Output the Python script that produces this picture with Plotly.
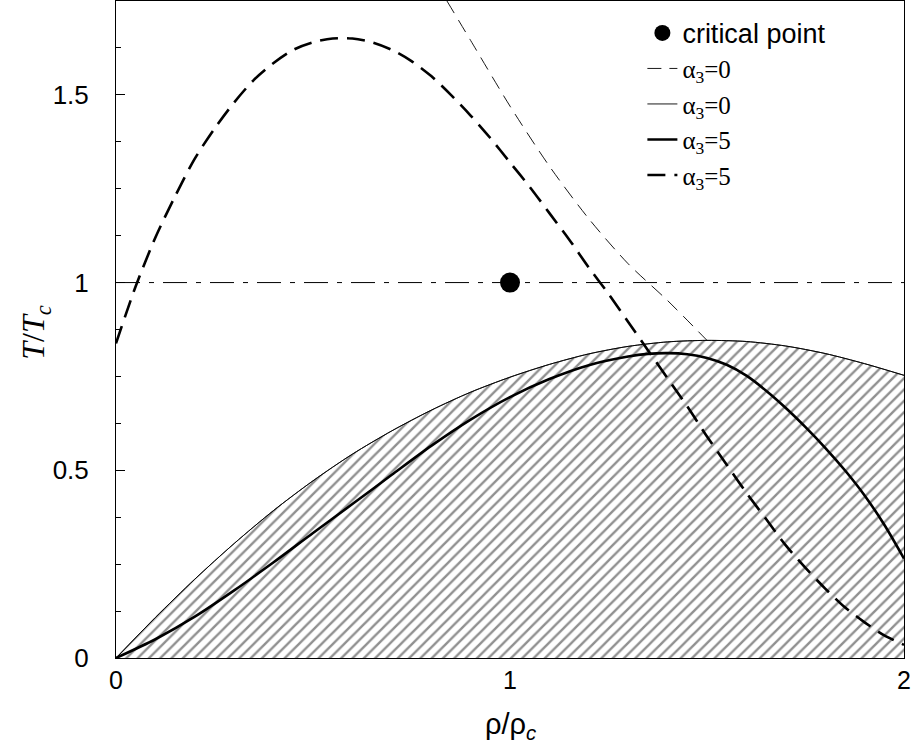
import plotly.graph_objects as go

# ---- data ----
crit_x = [1.0]
crit_y = [1.0]

ref_x = [0.0, 2.0]
ref_y = [1.0, 1.0]

# shaded region boundary (alpha3 = 0, thin solid)
bnd_x = [0.0, 0.1, 0.2, 0.3, 0.4, 0.5, 0.6, 0.7, 0.8, 0.9, 1.0, 1.1, 1.2, 1.3, 1.4, 1.5, 1.6, 1.7, 1.8, 1.9, 2.0]
bnd_y = [0.0, 0.108, 0.21, 0.305, 0.393, 0.472, 0.543, 0.605, 0.66, 0.708, 0.748, 0.782, 0.81, 0.83, 0.842, 0.846, 0.843, 0.831, 0.811, 0.784, 0.753]

# alpha3 = 0, thin dashed
a0d_x = [0.84, 0.9, 1.0, 1.1, 1.2, 1.3, 1.4, 1.5]
a0d_y = [1.75, 1.645, 1.47, 1.31, 1.17, 1.05, 0.952, 0.846]

# alpha3 = 5, thick solid
a5s_x = [0.0, 0.1, 0.2, 0.3, 0.4, 0.5, 0.6, 0.7, 0.8, 0.9, 1.0, 1.1, 1.2, 1.3, 1.35, 1.4, 1.45, 1.5, 1.55, 1.6,
         1.65, 1.7, 1.75, 1.8, 1.85, 1.9, 1.95, 2.0]
a5s_y = [0.0, 0.05, 0.11, 0.18, 0.255, 0.333, 0.41, 0.488, 0.565, 0.635, 0.695, 0.743, 0.78, 0.803, 0.81, 0.812, 0.809, 0.799, 0.781, 0.752,
         0.712, 0.666, 0.615, 0.56, 0.5, 0.433, 0.355, 0.265]

# alpha3 = 5, thick dashed
a5d_x = [0.0, 0.05, 0.1, 0.15, 0.2, 0.25, 0.3, 0.35, 0.4, 0.45, 0.5, 0.55, 0.6, 0.65, 0.7, 0.75, 0.8, 0.85, 0.9, 0.95, 1.0,
         1.05, 1.1, 1.15, 1.2, 1.25, 1.3, 1.35, 1.4, 1.45, 1.5, 1.55, 1.6, 1.65, 1.7, 1.75, 1.8, 1.85, 1.9, 1.95, 2.0]
a5d_y = [0.838, 0.99, 1.12, 1.23, 1.33, 1.41, 1.48, 1.54, 1.585, 1.62, 1.64, 1.65, 1.65, 1.64, 1.62, 1.59, 1.55, 1.50, 1.445, 1.385, 1.32,
         1.255, 1.185, 1.115, 1.04, 0.97, 0.895, 0.82, 0.745, 0.67, 0.59, 0.515, 0.44, 0.37, 0.30, 0.24, 0.185, 0.135, 0.095, 0.06, 0.035]

SANS = "Liberation Sans, Arial, sans-serif"
SERIF = "Liberation Serif, Times New Roman, serif"

fig = go.Figure()

# hatched region
fig.add_trace(go.Scatter(
    x=bnd_x, y=bnd_y, mode="lines", fill="tozeroy",
    line=dict(color="black", width=0.8, shape="spline", smoothing=0.8),
    fillcolor="rgba(255,255,255,0)",
    fillpattern=dict(shape="/", fgcolor="#222222", bgcolor="white", size=8, solidity=0.3),
    showlegend=False, hoverinfo="skip"))

# y = 1 dash-dot reference
fig.add_trace(go.Scatter(
    x=ref_x, y=ref_y, mode="lines",
    line=dict(color="black", width=1, dash="24px,9px,5px,9px"),
    showlegend=False, hoverinfo="skip"))

fig.add_trace(go.Scatter(
    x=crit_x, y=crit_y, mode="markers",
    marker=dict(color="black", size=20),
    name='<span style="font-family:Liberation Sans, Arial, sans-serif;font-size:27px">critical point</span>'))

fig.add_trace(go.Scatter(
    x=a0d_x, y=a0d_y, mode="lines",
    line=dict(color="black", width=0.9, dash="14px,8px", shape="spline", smoothing=0.8),
    name="α<sub>3</sub>=0"))

fig.add_trace(go.Scatter(
    x=bnd_x, y=bnd_y, mode="lines",
    line=dict(color="black", width=0.9, shape="spline", smoothing=0.8),
    name="α<sub>3</sub>=0"))

fig.add_trace(go.Scatter(
    x=a5s_x, y=a5s_y, mode="lines",
    line=dict(color="black", width=2.6, shape="spline", smoothing=0.8),
    name="α<sub>3</sub>=5"))

fig.add_trace(go.Scatter(
    x=a5d_x, y=a5d_y, mode="lines",
    line=dict(color="black", width=2.6, dash="18px,9px", shape="spline", smoothing=0.8),
    name="α<sub>3</sub>=5"))

fig.update_layout(
    width=912, height=746,
    margin=dict(l=116, r=8, t=1, b=88),
    paper_bgcolor="white", plot_bgcolor="white",
    font=dict(family=SANS, color="black", size=26),
    showlegend=True,
    legend=dict(
        x=0.668, y=0.986, xanchor="left", yanchor="top",
        bgcolor="rgba(255,255,255,0)", borderwidth=0,
        font=dict(family=SERIF, size=25, color="black"),
        tracegroupgap=0, itemwidth=30),
    xaxis=dict(
        range=[0, 2], tickvals=[0, 1, 2], ticktext=["0", "1", "2"],
        showgrid=False, zeroline=False,
        showline=True, linecolor="black", linewidth=1, mirror=True,
        ticks="", ticklabelstandoff=0, ticklabeloverflow="allow",
        tickfont=dict(family=SANS, size=25)),
    yaxis=dict(
        range=[0, 1.75], tickvals=[0, 0.5, 1, 1.5], ticktext=["0", "0.5", "1", "1.5"],
        showgrid=False, zeroline=False,
        showline=True, linecolor="black", linewidth=1, mirror=True,
        ticks="inside", ticklen=9, tickwidth=1, tickcolor="black",
        ticklabelstandoff=21,
        minor=dict(dtick=0.125, tick0=0, ticks="inside", ticklen=5, tickwidth=1, tickcolor="black", showgrid=False),
        tickfont=dict(family=SANS, size=26)),
    annotations=[
        dict(text="<i>T</i>/<i>T<sub>c</sub></i>", textangle=-90,
             xref="paper", yref="paper", x=0, y=0.495, xanchor="center", yanchor="middle",
             xshift=-80, showarrow=False, font=dict(family=SERIF, size=32, color="black")),
        dict(text="ρ/ρ<sub><i>c</i></sub>",
             xref="paper", yref="paper", x=0.5, y=0, xanchor="center", yanchor="middle",
             yshift=-68, showarrow=False, font=dict(family=SANS, size=29, color="black")),
    ],
)

fig.write_html("out.html", config={"displayModeBar": False},
               post_script="document.body.style.margin='0';document.body.style.overflow='hidden';")
